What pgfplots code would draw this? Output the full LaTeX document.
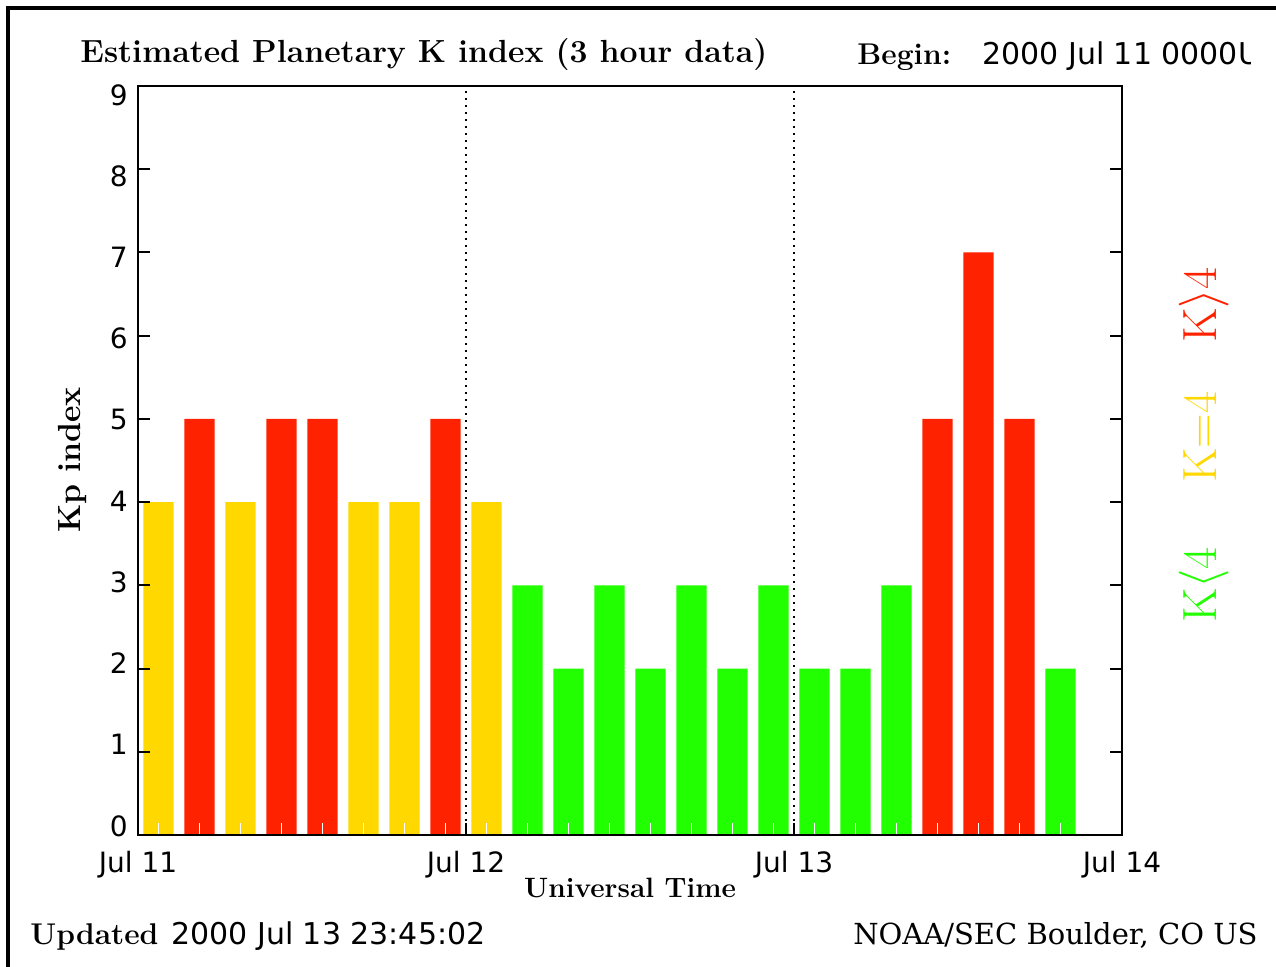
\documentclass[border=0pt]{standalone}
\usepackage{pgfplots}
\pgfplotsset{compat=1.18}
\usepackage{fontspec}
\newfontfamily\hsans{DejaVu Sans}
\newfontfamily\hserif{DejaVu Serif}
\definecolor{kred}{RGB}{255,34,0}
\definecolor{kyel}{RGB}{255,216,0}
\definecolor{kgrn}{RGB}{34,255,0}

\begin{document}
\begin{tikzpicture}
\begin{axis}[
    at={(0,0)}, anchor=south west,
    width=492pt, height=374.5pt, scale only axis,
    xmin=0, xmax=72, ymin=0, ymax=9,
    set layers=axis on top,
    axis line style={line width=1pt},
    xtick={0,24,48,72},
    xticklabels={Jul 11,Jul 12,Jul 13,Jul 14},
    ytick={0,1,2,3,4,5,6,7,8,9},
    xtick pos=lower, ytick pos=both, tick align=inside,
    major tick length=6pt,
    tick style={black, line width=1pt},
    xmajorgrids,
    major grid style={black, line width=1pt, dash pattern=on 1pt off 2.5pt},
    extra x ticks={1.5,4.5,7.5,10.5,13.5,16.5,19.5,22.5,25.5,28.5,31.5,34.5,
                   37.5,40.5,43.5,46.5,49.5,52.5,55.5,58.5,61.5,64.5,67.5},
    extra x tick labels={},
    extra x tick style={grid=none, tick style={white, line width=0.8pt}},
    /pgf/number format/assume math mode=true,
    ticklabel style={font=\hsans\fontsize{14}{16}\selectfont},
    xticklabel style={anchor=north, inner sep=0pt, yshift=-8pt},
    yticklabel style={anchor=east, inner sep=0pt, xshift=-5pt, yshift={(4.5-\ticknum)*1pt}},
]
% Kp < 4
\addplot[ybar, bar width=2.2, bar shift=0pt, fill=kgrn, draw=none] coordinates {
    (28.5,3) (31.5,2) (34.5,3) (37.5,2) (40.5,3) (43.5,2) (46.5,3)
    (49.5,2) (52.5,2) (55.5,3) (67.5,2)};
% Kp = 4
\addplot[ybar, bar width=2.2, bar shift=0pt, fill=kyel, draw=none] coordinates {
    (1.5,4) (7.5,4) (16.5,4) (19.5,4) (25.5,4)};
% Kp > 4
\addplot[ybar, bar width=2.2, bar shift=0pt, fill=kred, draw=none] coordinates {
    (4.5,5) (10.5,5) (13.5,5) (22.5,5) (58.5,5) (61.5,7) (64.5,5)};
\end{axis}

% annotations in pixel units of the reference
\begin{scope}[x=0.5pt, y=-0.5pt, shift={(-69pt,417.5pt)}]
  \useasboundingbox (0,0) rectangle (1276,967);
  \draw[line width=1.6pt] (8,967) -- (8,8) -- (1276,8);
  \node[anchor=base west, inner sep=0pt, font=\bfseries\fontsize{16}{19}\selectfont]
    at (80,63) {Estimated Planetary K index (3 hour data)};
  \node[anchor=base west, inner sep=0pt, font=\bfseries\fontsize{15}{18}\selectfont]
    at (857,65) {Begin:};
  \begin{scope}
    \clip (0,0) rectangle (1250,967);
    \node[anchor=base west, inner sep=0pt, font=\hsans\fontsize{15}{18}\selectfont]
      at (982,65) {2000 Jul 11 0000UT};
  \end{scope}
  \node[anchor=base, inner sep=0pt, font=\bfseries\fontsize{14}{17}\selectfont]
    at (630,898) {Universal Time};
  \node[rotate=90, anchor=base, inner sep=0pt, font=\bfseries\fontsize{16}{19}\selectfont]
    at (81,460) {Kp index};
  \node[anchor=base west, inner sep=0pt, font=\bfseries\fontsize{15}{18}\selectfont]
    at (30,945) {Updated};
  \node[anchor=base west, inner sep=0pt, font=\hsans\fontsize{15}{18}\selectfont]
    at (171,945) {2000 Jul 13 23:45:02};
  \node[anchor=base east, inner sep=0pt, font=\hserif\fontsize{14.5}{17}\selectfont]
    at (1258,945) {NOAA/SEC Boulder, CO US};
  \node[rotate=90, anchor=base, inner sep=0pt, text=kred, font=\fontsize{24}{26}\selectfont]
    at (1216,305) {K$\rangle$4};
  \node[rotate=90, anchor=base, inner sep=0pt, text=kyel, font=\fontsize{24}{26}\selectfont]
    at (1216,437) {K=4};
  \node[rotate=90, anchor=base, inner sep=0pt, text=kgrn, font=\fontsize{24}{26}\selectfont]
    at (1216,585) {K$\langle$4};
\end{scope}
\end{tikzpicture}
\end{document}
